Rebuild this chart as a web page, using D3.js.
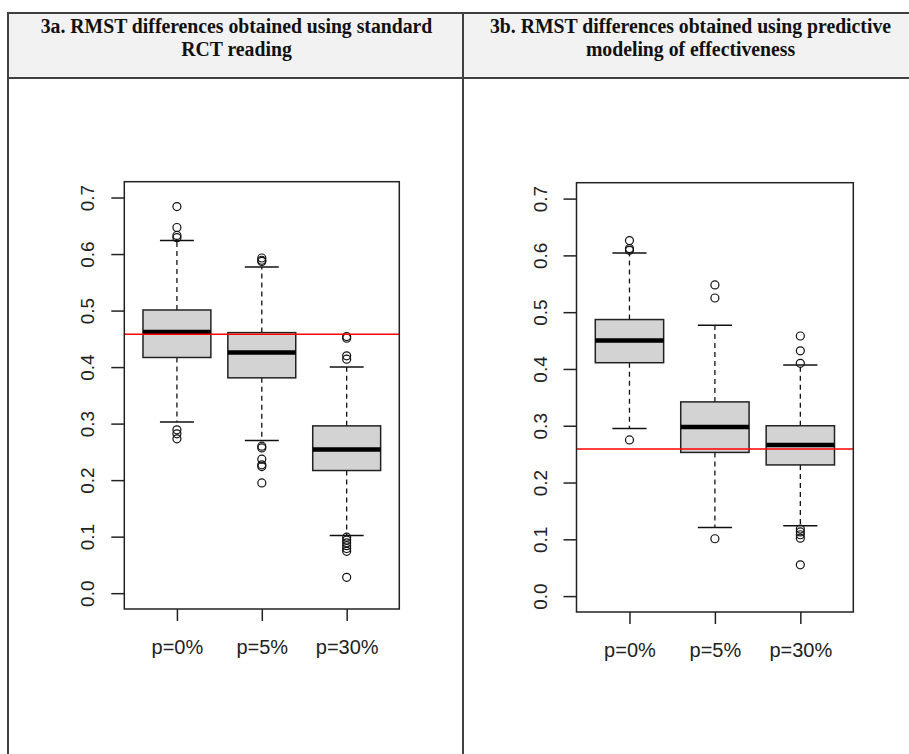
<!DOCTYPE html>
<html>
<head>
<meta charset="utf-8">
<script src="https://cdn.jsdelivr.net/npm/d3@7"></script>
<style>
  body { margin: 0; background: #fff; }
  svg { display: block; }
</style>
</head>
<body>
<div id="chart"></div>
<script>
// categories and values
var categories = ["p=0%", "p=5%", "p=30%"];
var yTicks = [0, 0.1, 0.2, 0.3, 0.4, 0.5, 0.6, 0.7];

// 3a - standard RCT reading
var rctLow    = [0.303, 0.270, 0.102];
var rctQ1     = [0.417, 0.381, 0.217];
var rctMedian = [0.462, 0.426, 0.254];
var rctQ3     = [0.501, 0.461, 0.296];
var rctHigh   = [0.624, 0.577, 0.400];
var rctOutliers = [
  [0.684, 0.647, 0.633, 0.629, 0.289, 0.282, 0.273],
  [0.593, 0.589, 0.587, 0.260, 0.257, 0.237, 0.227, 0.224, 0.195],
  [0.454, 0.451, 0.420, 0.414, 0.099, 0.094, 0.089, 0.084, 0.079, 0.074, 0.028]
];
var rctRef = 0.458;

// 3b - predictive modeling of effectiveness
var pmeLow    = [0.295, 0.121, 0.124];
var pmeQ1     = [0.411, 0.253, 0.231];
var pmeMedian = [0.450, 0.298, 0.266];
var pmeQ3     = [0.487, 0.342, 0.300];
var pmeHigh   = [0.604, 0.477, 0.407];
var pmeOutliers = [
  [0.626, 0.612, 0.609, 0.275],
  [0.548, 0.525, 0.101],
  [0.458, 0.432, 0.410, 0.118, 0.113, 0.108, 0.102, 0.055]
];
var pmeRef = 0.259;

var titles = [
  ["3a. RMST differences obtained using standard", "RCT reading"],
  ["3b. RMST differences obtained using predictive", "modeling of effectiveness"]
];

var W = 909, H = 754;
var svg = d3.select("#chart").append("svg")
  .attr("width", W).attr("height", H);

// table layout
var tableLeft = 8, tableMid = 463, tableTop = 13, headBottom = 78;
var lineCol = "#404040";

svg.append("rect")
  .attr("x", tableLeft).attr("y", tableTop)
  .attr("width", W - tableLeft).attr("height", headBottom - tableTop)
  .attr("fill", "#f2f2f2");

svg.append("line").attr("x1", tableLeft).attr("x2", W).attr("y1", tableTop).attr("y2", tableTop)
  .attr("stroke", lineCol).attr("stroke-width", 2);
svg.append("line").attr("x1", tableLeft).attr("x2", W).attr("y1", headBottom).attr("y2", headBottom)
  .attr("stroke", lineCol).attr("stroke-width", 2);
[tableLeft, tableMid].forEach(function(x) {
  svg.append("line").attr("x1", x).attr("x2", x).attr("y1", tableTop - 1).attr("y2", H)
    .attr("stroke", lineCol).attr("stroke-width", 2);
});

// header text is a slightly condensed bold serif
var cellCenters = [(tableLeft + tableMid) / 2 + 1, (tableMid + W + 9) / 2];
titles.forEach(function(t, i) {
  var txt = svg.append("text")
    .attr("transform", "translate(" + cellCenters[i] + ",0) scale(0.94,1)")
    .attr("text-anchor", "middle")
    .style("font-family", "'Liberation Serif', 'Times New Roman', serif")
    .style("font-weight", "bold")
    .style("font-size", "21px")
    .attr("fill", "#111");
  t.forEach(function(line, j) {
    txt.append("tspan").attr("x", 0).attr("y", 33 + j * 23).text(line);
  });
});

var panels = [
  {x0: 124.3, x1: 399.3, y0: 181.7, y1: 609,
   low: rctLow, q1: rctQ1, med: rctMedian, q3: rctQ3, high: rctHigh, out: rctOutliers, ref: rctRef},
  {x0: 576.5, x1: 853.3, y0: 182.7, y1: 612,
   low: pmeLow, q1: pmeQ1, med: pmeMedian, q3: pmeQ3, high: pmeHigh, out: pmeOutliers, ref: pmeRef}
];

panels.forEach(function(p) {
  // R style 4% expansion around ylim = c(0, 0.7) and xlim = c(0.5, 3.5)
  var y = d3.scaleLinear().domain([-0.028, 0.728]).range([p.y1, p.y0]);
  var x = d3.scaleLinear().domain([0.38, 3.62]).range([p.x0, p.x1]);
  var unit = x(2) - x(1);

  var g = svg.append("g");

  var data = categories.map(function(c, i) {
    return {cat: c, pos: i + 1, low: p.low[i], q1: p.q1[i], med: p.med[i],
            q3: p.q3[i], high: p.high[i], out: p.out[i]};
  });

  var box = g.selectAll(".box").data(data).enter().append("g").attr("class", "box");

  // whiskers
  box.append("line")
    .attr("x1", function(d) { return x(d.pos); }).attr("x2", function(d) { return x(d.pos); })
    .attr("y1", function(d) { return y(d.q3); }).attr("y2", function(d) { return y(d.high); })
    .attr("stroke", "#111").attr("stroke-width", 1.3).attr("stroke-dasharray", "5,4");
  box.append("line")
    .attr("x1", function(d) { return x(d.pos); }).attr("x2", function(d) { return x(d.pos); })
    .attr("y1", function(d) { return y(d.q1); }).attr("y2", function(d) { return y(d.low); })
    .attr("stroke", "#111").attr("stroke-width", 1.3).attr("stroke-dasharray", "5,4");

  // staples
  ["low", "high"].forEach(function(k) {
    box.append("line")
      .attr("x1", function(d) { return x(d.pos - 0.2); }).attr("x2", function(d) { return x(d.pos + 0.2); })
      .attr("y1", function(d) { return y(d[k]); }).attr("y2", function(d) { return y(d[k]); })
      .attr("stroke", "#111").attr("stroke-width", 1.5);
  });

  // boxes
  box.append("rect")
    .attr("x", function(d) { return x(d.pos - 0.4); })
    .attr("width", 0.8 * unit)
    .attr("y", function(d) { return y(d.q3); })
    .attr("height", function(d) { return y(d.q1) - y(d.q3); })
    .attr("fill", "#d3d3d3").attr("stroke", "#222").attr("stroke-width", 1.5);

  // medians
  box.append("line")
    .attr("x1", function(d) { return x(d.pos - 0.4); }).attr("x2", function(d) { return x(d.pos + 0.4); })
    .attr("y1", function(d) { return y(d.med); }).attr("y2", function(d) { return y(d.med); })
    .attr("stroke", "#000").attr("stroke-width", 4.5);

  // outliers
  box.selectAll("circle")
    .data(function(d) { return d.out.map(function(v) { return {pos: d.pos, v: v}; }); })
    .enter().append("circle")
    .attr("cx", function(d) { return x(d.pos); })
    .attr("cy", function(d) { return y(d.v); })
    .attr("r", 4)
    .attr("fill", "none").attr("stroke", "#111").attr("stroke-width", 1.2);

  // reference line
  g.append("line")
    .attr("x1", p.x0).attr("x2", p.x1)
    .attr("y1", y(p.ref)).attr("y2", y(p.ref))
    .attr("stroke", "#ff0000").attr("stroke-width", 1.5);

  // frame
  g.append("rect")
    .attr("x", p.x0).attr("y", p.y0)
    .attr("width", p.x1 - p.x0).attr("height", p.y1 - p.y0)
    .attr("fill", "none").attr("stroke", "#222").attr("stroke-width", 1.5);

  // y axis
  var ya = g.append("g")
    .attr("transform", "translate(" + p.x0 + ",0)")
    .call(d3.axisLeft(y).tickValues(yTicks).tickSize(13).tickFormat(d3.format(".1f")));
  ya.select(".domain").remove();
  ya.selectAll(".tick line").attr("stroke", "#222").attr("stroke-width", 1.5);
  ya.selectAll(".tick text")
    .attr("transform", "rotate(-90)")
    .attr("x", 0).attr("y", -30).attr("dy", 0)
    .attr("text-anchor", "middle")
    .attr("fill", "#222")
    .style("font-family", "'Liberation Sans', Arial, sans-serif")
    .style("font-size", "19px");

  // x axis
  var xa = g.append("g")
    .attr("transform", "translate(0," + p.y1 + ")")
    .call(d3.axisBottom(x).tickValues([1, 2, 3]).tickSize(12)
      .tickFormat(function(d) { return categories[d - 1]; }));
  xa.select(".domain").remove();
  xa.selectAll(".tick line").attr("stroke", "#222").attr("stroke-width", 1.5);
  xa.selectAll(".tick text")
    .attr("y", 45).attr("dy", 0)
    .attr("fill", "#222")
    .style("font-family", "'Liberation Sans', Arial, sans-serif")
    .style("font-size", "20px");
});
</script>
</body>
</html>
